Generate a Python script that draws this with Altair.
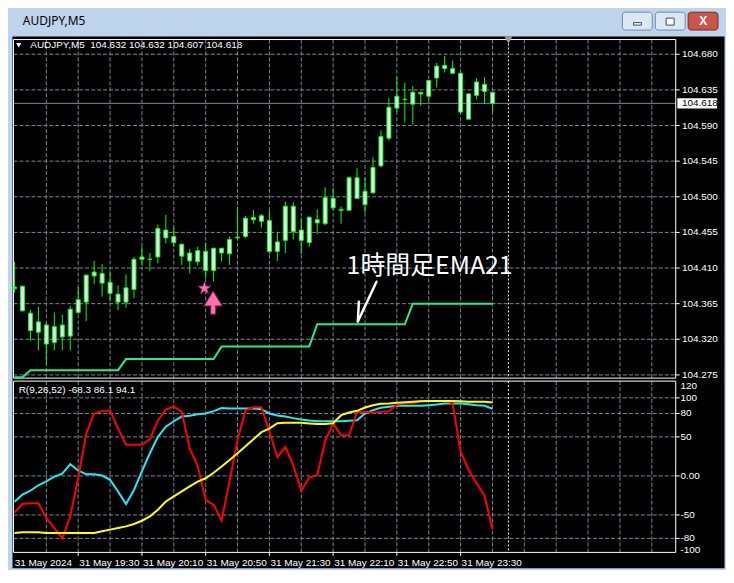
import altair as alt
import pandas as pd

# ---------------- data ----------------
bars = list(range(61))  # M5 bars, bar 0 = 31 May 18:50, bar 60 = 23:50
opens = [104.386, 104.387, 104.353, 104.329, 104.338, 104.316, 104.338, 104.324, 104.354, 104.367,
         104.405, 104.403, 104.392, 104.377, 104.367, 104.383, 104.424, 104.421, 104.424, 104.458,
         104.450, 104.440, 104.429, 104.418, 104.431, 104.407, 104.435, 104.428, 104.448, 104.450,
         104.474, 104.476, 104.470, 104.431, 104.445, 104.488, 104.458, 104.442, 104.471, 104.466,
         104.498, 104.484, 104.483, 104.524, 104.490, 104.505, 104.539, 104.574, 104.612, 104.623,
         104.617, 104.632, 104.627, 104.650, 104.666, 104.662, 104.656, 104.598, 104.628, 104.642,
         104.632]
highs = [104.418, 104.388, 104.357, 104.361, 104.341, 104.354, 104.351, 104.362, 104.386, 104.402,
         104.419, 104.415, 104.406, 104.388, 104.402, 104.424, 104.437, 104.429, 104.465, 104.477,
         104.461, 104.441, 104.434, 104.437, 104.442, 104.435, 104.435, 104.450, 104.487, 104.476,
         104.483, 104.478, 104.483, 104.455, 104.494, 104.493, 104.473, 104.476, 104.484, 104.512,
         104.511, 104.488, 104.526, 104.536, 104.524, 104.550, 104.584, 104.625, 104.651, 104.644,
         104.640, 104.632, 104.647, 104.669, 104.678, 104.672, 104.656, 104.630, 104.650, 104.651,
         104.632]
lows = [104.379, 104.355, 104.318, 104.306, 104.288, 104.306, 104.306, 104.306, 104.352, 104.343,
        104.390, 104.374, 104.368, 104.357, 104.360, 104.372, 104.413, 104.406, 104.416, 104.441,
        104.437, 104.414, 104.403, 104.413, 104.397, 104.393, 104.418, 104.414, 104.447, 104.448,
        104.466, 104.461, 104.428, 104.419, 104.429, 104.446, 104.428, 104.437, 104.453, 104.464,
        104.483, 104.466, 104.482, 104.497, 104.480, 104.504, 104.537, 104.571, 104.607, 104.594,
        104.591, 104.615, 104.622, 104.638, 104.657, 104.656, 104.605, 104.598, 104.623, 104.617,
        104.607]
closes = [104.384, 104.356, 104.331, 104.342, 104.314, 104.336, 104.323, 104.358, 104.370, 104.401,
          104.400, 104.391, 104.378, 104.367, 104.385, 104.421, 104.421, 104.421, 104.460, 104.448,
          104.442, 104.425, 104.419, 104.432, 104.407, 104.435, 104.429, 104.446, 104.449, 104.473,
          104.471, 104.469, 104.431, 104.443, 104.488, 104.456, 104.445, 104.474, 104.467, 104.499,
          104.486, 104.483, 104.524, 104.498, 104.507, 104.537, 104.576, 104.613, 104.627, 104.623,
          104.632, 104.630, 104.647, 104.665, 104.662, 104.656, 104.607, 104.630, 104.645, 104.633,
          104.618]
ema21_h1 = [104.272, 104.272] + [104.281] * 12 + [104.295] * 12 + [104.311] * 12 + [104.339] * 12 + [104.365] * 11
rci9 = [-47, -36, -35, -35, -54, -67, -80, -52, -3, 54, 80, 83, 84, 61, 40, 40, 40, 47, 71, 85,
        89, 82, 35, 13, -31, -37, -57, -7, 46, 84, 88, 88, 57, 24, 37, 14, -19, -2, 1, 45,
        67, 52, 52, 82, 82, 81, 82, 83, 91, 93, 93, 96, 96, 96, 96, 93, 31, 8, -9, -25, -68.3]
rci26 = [-33, -24, -19, -12, -7, -1, 3, 15, 7, 2, 2, 0.5, -5, -20, -36, -18, 6, 29, 50, 63,
         70, 76, 77, 79, 80, 83, 87, 86.5, 86.5, 86.5, 86.5, 85.5, 80, 77.5, 76, 74, 72.3, 71, 70, 70,
         70, 70, 70.6, 71.4, 80, 84.2, 87.2, 88.5, 89.8, 89.8, 89.8, 89.8, 90.6, 91.4, 92.7, 92.7, 92.7,
         91.8, 90.6, 89.8, 86.1]
rci52 = [-73, -72.3, -72, -72.3, -73, -73, -73, -73, -73, -73, -73, -71, -68.8, -66.7, -64.6, -61.6,
         -57.4, -51.8, -43.4, -32.7, -26.3, -19.9, -13.5, -7.2, -3, 4, 12, 20.5, 29, 38, 47, 56, 60.5,
         67.5, 68.1, 68.1, 68.1, 67.2, 66.4, 66.4, 67.5, 77.8, 81.2, 83.4, 87.6, 90.6, 92.3, 92.7, 93.6,
         94.5, 95, 95.5, 96, 96, 96, 96, 95.5, 95, 95, 95, 94.1]

price_levels = [104.680, 104.635, 104.590, 104.545, 104.500, 104.455, 104.410, 104.365, 104.320, 104.275]
bid_price = 104.618
rci_levels = [100, 80, 50, 0, -50, -80]
rci_label_text = ["120", "100", "80", "50", "0.00", "-50", "-80", "-100"]
rci_label_vals = [114.7, 100, 80, 50, 0, -50, -80, -94.7]
time_label_text = ["31 May 2024", "31 May 19:30", "31 May 20:10", "31 May 20:50",
                   "31 May 21:30", "31 May 22:10", "31 May 22:50", "31 May 23:30"]
time_label_bars = [-0.1, 8, 16, 24, 32, 40, 48, 56]
grid_bars = list(range(4, 84, 4))
window_title = "AUDJPY,M5"
header_text = "AUDJPY,M5 \u00a0104.632 104.632 104.607 104.618"
rci_header = "R(9,26,52) -68.3 86.1 94.1"
note_text = "1時間足EMA21"
window_buttons = ["min", "max", "close"]

# annotation anchor points (bar index, price)
star_pt = (23.85, 104.3844)
arrow_pt = (24.94, 104.3665)
note_pt = (41.69, 104.4131)
pointer_long = [(45.44, 104.3927), (43.10, 104.3424)]
pointer_barb = [(43.23, 104.3675), (43.10, 104.3424)]

# ---------------- scales ----------------
XS = alt.Scale(domain=[-0.3125, 89.0625], nice=False, zero=False)
YP = alt.Scale(domain=[104.26906, 104.70300], nice=False, zero=False)
YR = alt.Scale(domain=[-117.73, 123.34], nice=False, zero=False)
YT = alt.Scale(domain=[0, 26], nice=False, zero=False)
P_TOP, P_BOT = 104.69860, 104.27095
R_TOP, R_BOT = 121.43, -97.96
X_L, X_R = -0.125, 83.0
GRID = "#778899"
LIME = "#00FF00"
FONT = "Liberation Sans"
STAR_PATH = ("M0,-1 L0.235,-0.324 L0.951,-0.309 L0.380,0.124 L0.588,0.809 L0,0.4 "
             "L-0.588,0.809 L-0.380,0.124 L-0.951,-0.309 L-0.235,-0.324 Z")
ARROW_PATH = "M0,-1 L0.8,0.3 L0.23,0.3 L0.23,1 L-0.23,1 L-0.23,0.3 L-0.8,0.3 Z"


def X(f):
    return alt.X(f, type="quantitative", scale=XS, axis=None)


def YPr(f):
    return alt.Y(f, type="quantitative", scale=YP, axis=None)


def YRc(f):
    return alt.Y(f, type="quantitative", scale=YR, axis=None)


def YTi(f):
    return alt.Y(f, type="quantitative", scale=YT, axis=None)


# ---------------- window title bar ----------------
tb = pd.DataFrame({"i": [1.05], "v": [15.0], "t": [window_title]})
btn = pd.DataFrame({"name": window_buttons,
                    "x1": [76.31, 80.44, 84.56], "x2": [80.06, 84.19, 88.31],
                    "y1": [6.0] * 3, "y2": [24.0] * 3,
                    "xc": [78.19, 82.31, 86.44]})
title_text = alt.Chart(tb).mark_text(align="left", baseline="middle", color="#000000",
                                     font="Noto Sans", fontSize=12).encode(
    x=X("i"), y=YTi("v"), text="t:N")
btn_rect = alt.Chart(btn).mark_rect(strokeWidth=1, cornerRadius=3).encode(
    x=X("x1"), x2="x2", y=YTi("y1"), y2="y2",
    fill=alt.Fill("name:N", scale=alt.Scale(domain=window_buttons,
                                            range=["#DCE7F4", "#DCE7F4", "#C9554A"]), legend=None),
    stroke=alt.Stroke("name:N", scale=alt.Scale(domain=window_buttons,
                                                range=["#6F8BAA", "#6F8BAA", "#7A2A22"]), legend=None))
btn_min = alt.Chart(btn[btn["name"] == "min"]).mark_rect(fill="#FFFFFF", stroke="#3A4A5C", strokeWidth=1).encode(
    x=alt.X("xc", type="quantitative", scale=XS, axis=None, bandPosition=0),
    x2=alt.X2("xc"), y=YTi("y1"), y2="y1")
min_glyph = pd.DataFrame({"a": [77.7], "b": [78.7], "y1": [11.0], "y2": [13.5]})
max_glyph = pd.DataFrame({"a": [81.8], "b": [82.8], "y1": [11.0], "y2": [18.0]})
g_min = alt.Chart(min_glyph).mark_rect(fill="#FFFFFF", stroke="#3A4A5C", strokeWidth=1).encode(
    x=X("a"), x2="b", y=YTi("y1"), y2="y2")
g_max = alt.Chart(max_glyph).mark_rect(fill="#FFFFFF", stroke="#3A4A5C", strokeWidth=1).encode(
    x=X("a"), x2="b", y=YTi("y1"), y2="y2")
g_close = alt.Chart(btn[btn["name"] == "close"]).mark_text(
    text="X", color="white", font=FONT, fontSize=12, fontWeight="bold", baseline="middle").encode(
    x=X("xc"), y=alt.YDatum(15.0, scale=YT, axis=None))
title_bar = alt.layer(title_text, btn_rect, g_min, g_max, g_close).properties(
    width=715, height=26, view=alt.ViewBackground(fill="#BED4EC", stroke="transparent"))

# ---------------- price panel ----------------
cd = pd.DataFrame({"i": bars, "o": opens, "h": highs, "l": lows, "c": closes})
cd["x1"] = cd["i"] - 0.25
cd["x2"] = cd["i"] + 0.25
cd["kind"] = ["bear" if c < o else "bull" for o, c in zip(opens, closes)]

gv = pd.DataFrame({"i": grid_bars, "top": P_TOP, "bot": P_BOT})
gh = pd.DataFrame({"p": price_levels, "x1": X_L, "x2": X_R, "lab": [f"{p:.3f}" for p in price_levels],
                   "tx": 83.78, "t1": X_R, "t2": 83.5})
frame_p = pd.DataFrame({"x1": [X_L], "x2": [X_R], "y1": [P_TOP], "y2": [P_BOT]})
bid = pd.DataFrame({"p": [bid_price], "x1": [X_L], "x2": [X_R], "b1": [83.2], "b2": [88.2],
                    "p1": [bid_price - 0.0066], "p2": [bid_price + 0.0066], "tx": [83.78],
                    "lab": [f"{bid_price:.3f}"]})
ema = pd.DataFrame({"i": bars, "v": ema21_h1})
shift = pd.DataFrame({"i": [62.0], "top": [P_TOP], "bot": [P_BOT], "tri": [104.6982]})
hdr = pd.DataFrame({"i": [1.98], "p": [104.6913], "t": [header_text], "ti": [0.53]})

gridv_p = alt.Chart(gv).mark_rule(color=GRID, strokeDash=[4, 2], strokeWidth=1).encode(
    x=X("i"), y=YPr("top"), y2="bot")
gridh_p = alt.Chart(gh).mark_rule(color=GRID, strokeDash=[4, 2], strokeWidth=1).encode(
    x=X("x1"), x2="x2", y=YPr("p"))
ticks_p = alt.Chart(gh).mark_rule(color="white", strokeWidth=1).encode(x=X("t1"), x2="t2", y=YPr("p"))
labels_p = alt.Chart(gh).mark_text(align="left", baseline="middle", color="white", font=FONT,
                                   fontSize=10).encode(x=X("tx"), y=YPr("p"), text="lab:N")
shift_line_p = alt.Chart(shift).mark_rule(color="white", strokeDash=[2, 2], strokeWidth=1).encode(
    x=X("i"), y=YPr("top"), y2="bot")
bid_line = alt.Chart(bid).mark_rule(color=GRID, strokeWidth=1).encode(x=X("x1"), x2="x2", y=YPr("p"))
frame_pr = alt.Chart(frame_p).mark_rect(fillOpacity=0, stroke="white", strokeWidth=1).encode(
    x=X("x1"), x2="x2", y=YPr("y1"), y2="y2")
ema_line = alt.Chart(ema).mark_line(color="#22EE88", strokeWidth=2).encode(x=X("i"), y=YPr("v"))
wicks = alt.Chart(cd).mark_rule(color=LIME, strokeWidth=1).encode(x=X("i"), y=YPr("l"), y2="h")
bodies = alt.Chart(cd).mark_rect(stroke=LIME, strokeWidth=1).encode(
    x=X("x1"), x2="x2", y=YPr("o"), y2="c",
    fill=alt.Fill("kind:N", scale=alt.Scale(domain=["bull", "bear"], range=["#000000", "#FFFFFF"]),
                  legend=None))
bid_box = alt.Chart(bid).mark_rect(fill="white").encode(x=X("b1"), x2="b2", y=YPr("p1"), y2="p2")
bid_text = alt.Chart(bid).mark_text(align="left", baseline="middle", color="black", font=FONT,
                                    fontSize=10).encode(x=X("tx"), y=YPr("p"), text="lab:N")
hdr_text = alt.Chart(hdr).mark_text(align="left", baseline="middle", color="white", font=FONT,
                                    fontSize=10).encode(x=X("i"), y=YPr("p"), text="t:N")
hdr_tri = alt.Chart(hdr).mark_point(shape="triangle-down", filled=True, color="white", size=28,
                                    opacity=1).encode(x=X("ti"), y=YPr("p"))
shift_tri = alt.Chart(shift).mark_point(shape="triangle-down", filled=True, color="#9a9a9a", size=70,
                                        opacity=1).encode(x=X("i"), y=YPr("tri"))

star = alt.Chart(pd.DataFrame({"i": [star_pt[0]], "p": [star_pt[1]]})).mark_point(
    shape=STAR_PATH, filled=True, fill="#FF6EB4", stroke="#7a2a5a", strokeWidth=0.8, size=190,
    opacity=1).encode(x=X("i"), y=YPr("p"))
arrow = alt.Chart(pd.DataFrame({"i": [arrow_pt[0]], "p": [arrow_pt[1]]})).mark_point(
    shape=ARROW_PATH, filled=True, fill="#FF6EB4", stroke="#5a1640", strokeWidth=1.2, size=560,
    opacity=1).encode(x=X("i"), y=YPr("p"))
note = alt.Chart(pd.DataFrame({"i": [note_pt[0]], "p": [note_pt[1]], "t": [note_text]})).mark_text(
    align="left", baseline="middle", color="white", font="Noto Sans CJK JP", fontSize=25
).encode(x=X("i"), y=YPr("p"), text="t:N")
ptr_df = pd.DataFrame({
    "xa": [pointer_long[0][0], pointer_barb[0][0]], "xb": [pointer_long[1][0], pointer_barb[1][0]],
    "pa": [pointer_long[0][1], pointer_barb[0][1]], "pb": [pointer_long[1][1], pointer_barb[1][1]]})
pointer = alt.Chart(ptr_df).mark_rule(color="white", strokeWidth=2.5, strokeCap="round").encode(
    x=X("xa"), x2="xb", y=YPr("pa"), y2="pb")

price = alt.layer(
    gridv_p, gridh_p, shift_line_p, bid_line, frame_pr, ticks_p, labels_p, ema_line, wicks, bodies,
    bid_box, bid_text, hdr_text, hdr_tri, shift_tri, star, arrow, pointer, note
).properties(width=715, height=345)

# ---------------- RCI panel ----------------
rd = pd.DataFrame({"i": bars, "r9": rci9, "r26": rci26, "r52": rci52})
gvr = pd.DataFrame({"i": grid_bars, "top": R_TOP, "bot": R_BOT})
ghr = pd.DataFrame({"v": rci_levels, "x1": X_L, "x2": X_R, "t1": X_R, "t2": 83.5})
labr = pd.DataFrame({"v": rci_label_vals, "t": rci_label_text, "tx": 83.6})
frame_r = pd.DataFrame({"x1": [X_L], "x2": [X_R], "y1": [R_TOP], "y2": [R_BOT]})
shift_r = pd.DataFrame({"i": [62.0], "top": [R_TOP], "bot": [R_BOT]})
tl = pd.DataFrame({"i": time_label_bars, "t": time_label_text, "v": -111.4,
                   "k1": R_BOT, "k2": -102.4})
tk = tl[tl["i"] > 0].reset_index(drop=True)
rhdr = pd.DataFrame({"i": [0.53], "v": [109.7], "t": [rci_header]})

gridv_r = alt.Chart(gvr).mark_rule(color=GRID, strokeDash=[4, 2], strokeWidth=1).encode(
    x=X("i"), y=YRc("top"), y2="bot")
gridh_r = alt.Chart(ghr).mark_rule(color=GRID, strokeDash=[4, 2], strokeWidth=1).encode(
    x=X("x1"), x2="x2", y=YRc("v"))
ticks_r = alt.Chart(ghr).mark_rule(color="white", strokeWidth=1).encode(x=X("t1"), x2="t2", y=YRc("v"))
labels_r = alt.Chart(labr).mark_text(align="left", baseline="middle", color="white", font=FONT,
                                     fontSize=10).encode(x=X("tx"), y=YRc("v"), text="t:N")
shift_line_r = alt.Chart(shift_r).mark_rule(color="white", strokeDash=[2, 2], strokeWidth=1).encode(
    x=X("i"), y=YRc("top"), y2="bot")
frame_rc = alt.Chart(frame_r).mark_rect(fillOpacity=0, stroke="white", strokeWidth=1).encode(
    x=X("x1"), x2="x2", y=YRc("y1"), y2="y2")
line26 = alt.Chart(rd).mark_line(color="#20EAF5", strokeWidth=2).encode(x=X("i"), y=YRc("r26"))
line9 = alt.Chart(rd).mark_line(color="#FF0000", strokeWidth=2).encode(x=X("i"), y=YRc("r9"))
line52 = alt.Chart(rd).mark_line(color="#FFFF00", strokeWidth=2).encode(x=X("i"), y=YRc("r52"))
time_ticks = alt.Chart(tk).mark_rule(color="white", strokeWidth=1).encode(x=X("i"), y=YRc("k1"), y2="k2")
time_labels = alt.Chart(tl).mark_text(align="left", baseline="middle", color="white", font=FONT,
                                      fontSize=10, dx=1).encode(x=X("i"), y=YRc("v"), text="t:N")
rci_hdr = alt.Chart(rhdr).mark_text(align="left", baseline="middle", color="white", font=FONT,
                                    fontSize=10).encode(x=X("i"), y=YRc("v"), text="t:N")

rci = alt.layer(
    gridv_r, gridh_r, shift_line_r, frame_rc, ticks_r, labels_r, line26, line9, line52,
    time_ticks, time_labels, rci_hdr
).properties(width=715, height=189)

chart = alt.vconcat(title_bar, price, rci, spacing=0, bounds="flush").properties(
    padding={"left": 2, "top": 0, "right": 1, "bottom": 0},
    background="#BED4EC",
).configure_view(fill="#000000", stroke="transparent")

chart.save("out.html", embed_options={"renderer": "svg", "actions": False})
